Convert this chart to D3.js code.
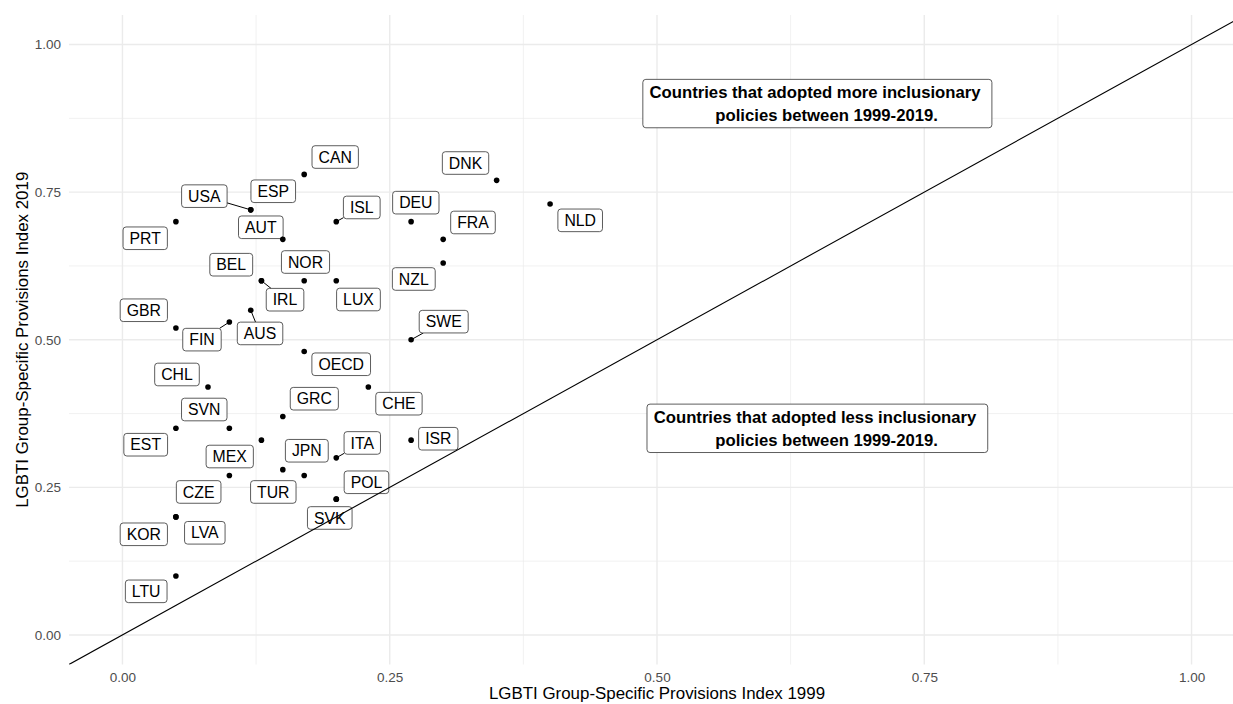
<!DOCTYPE html>
<html>
<head>
<meta charset="utf-8">
<script src="https://cdn.jsdelivr.net/npm/d3@7"></script>
<style>
  body { margin: 0; background: #fff; }
  svg { display: block; font-family: "Liberation Sans", Arial, sans-serif; }
</style>
</head>
<body>
<div id="chart"></div>
<script>
// country codes and the two index values
var countries = ["CAN", "ESP", "USA", "AUT", "PRT", "ISL", "DEU", "DNK", "FRA", "NLD",
                 "NZL", "SWE", "LUX", "NOR", "BEL", "IRL", "GBR", "FIN", "AUS", "OECD",
                 "CHL", "CHE", "GRC", "SVN", "EST", "MEX", "JPN", "TUR", "ITA", "ISR",
                 "CZE", "POL", "SVK", "KOR", "LVA", "LTU"];
var index1999 = [0.17, 0.12, 0.12, 0.15, 0.05, 0.20, 0.27, 0.35, 0.30, 0.40,
                 0.30, 0.27, 0.20, 0.17, 0.13, 0.13, 0.05, 0.10, 0.12, 0.17,
                 0.08, 0.23, 0.15, 0.10, 0.05, 0.13, 0.15, 0.17, 0.20, 0.27,
                 0.10, 0.20, 0.20, 0.05, 0.05, 0.05];
var index2019 = [0.78, 0.72, 0.72, 0.67, 0.70, 0.70, 0.70, 0.77, 0.67, 0.73,
                 0.63, 0.50, 0.60, 0.60, 0.60, 0.60, 0.52, 0.53, 0.55, 0.48,
                 0.42, 0.42, 0.37, 0.35, 0.35, 0.33, 0.28, 0.27, 0.30, 0.33,
                 0.27, 0.23, 0.23, 0.20, 0.20, 0.10];

var majorTicks = [0, 0.25, 0.5, 0.75, 1];
var minorTicks = [0.125, 0.375, 0.625, 0.875];
var tickLabels = ["0.00", "0.25", "0.50", "0.75", "1.00"];

var noteLines = [
  ["Countries that adopted more inclusionary ", "    policies between 1999-2019."],
  ["Countries that adopted less inclusionary ", "    policies between 1999-2019."]
];
var noteX = [0.65, 0.65];
var noteY = [0.90, 0.35];

// repelled label placement (pixel offsets from each point), like ggrepel gave
var labelDx = [31, 22.5, -46.4, -22, -30.7, 25.5, 4.7, -31.1, 29.8, 30.1,
               -29.4, 32.6, 22.2, 1.3, -30.2, 23.6, -32.1, -27.4, 9.3, 37,
               -31, 30.6, 31.5, -25.1, -30.2, -31.7, 24, -30.9, 26, 27.2,
               -30.7, 30.2, -6.5, -32.1, 28.9, -29.7];
var labelDy = [-17.4, -18.6, -13.7, -12.1, 16.6, -14.2, -19, -17.3, -16.9, 16.4,
               16, -18.1, 18.8, -18.7, -16, 19, -17.7, 17.6, 23.2, 12.7,
               -12.5, 16.7, -17.8, -18.8, 16.4, 16.4, -18.9, 16.4, -14.9, -1.4,
               16.4, -16.9, 18.8, 17.4, 15.9, 15.4];
var segmentCountries = ["USA", "ISL", "IRL", "FIN", "AUS", "SWE", "ITA"];

function init() {
  var w = 1233;
  var h = 704;

  var x = d3.scaleLinear().domain([-0.05, 1.05]).range([69, 1245]);
  var y = d3.scaleLinear().domain([-0.05, 1.05]).range([664.5, 15]);

  var svg = d3.select("#chart")
              .append("svg")
              .attr("width", w)
              .attr("height", h);

  svg.append("defs").append("clipPath")
     .attr("id", "panel")
     .append("rect")
     .attr("x", x.range()[0])
     .attr("y", y.range()[1])
     .attr("width", x.range()[1] - x.range()[0])
     .attr("height", y.range()[0] - y.range()[1]);

  // grid
  var grid = svg.append("g").attr("stroke", "#ebebeb");
  [[minorTicks, 0.7], [majorTicks, 1.4]].forEach(function(set) {
    grid.selectAll(null).data(set[0]).enter().append("line")
        .attr("x1", function(d) { return x(d); })
        .attr("x2", function(d) { return x(d); })
        .attr("y1", y.range()[0])
        .attr("y2", y.range()[1])
        .attr("stroke-width", set[1]);
    grid.selectAll(null).data(set[0]).enter().append("line")
        .attr("y1", function(d) { return y(d); })
        .attr("y2", function(d) { return y(d); })
        .attr("x1", x.range()[0])
        .attr("x2", x.range()[1])
        .attr("stroke-width", set[1]);
  });

  // axes
  var xAxis = d3.axisBottom(x)
                .tickValues(majorTicks)
                .tickFormat(function(d, i) { return tickLabels[i]; })
                .tickSize(0)
                .tickPadding(7.5);
  svg.append("g")
     .attr("transform", "translate(0," + y.range()[0] + ")")
     .call(xAxis)
     .attr("font-family", null)
     .attr("font-size", "13.5px")
     .call(function(g) { g.select(".domain").remove(); })
     .selectAll("text").attr("fill", "#4d4d4d");

  var yAxis = d3.axisLeft(y)
                .tickValues(majorTicks)
                .tickFormat(function(d, i) { return tickLabels[i]; })
                .tickSize(0)
                .tickPadding(8);
  svg.append("g")
     .attr("transform", "translate(" + x.range()[0] + ",0)")
     .call(yAxis)
     .attr("font-family", null)
     .attr("font-size", "13.5px")
     .call(function(g) { g.select(".domain").remove(); })
     .selectAll("text").attr("fill", "#4d4d4d");

  // axis titles
  svg.append("text")
     .attr("x", (x.range()[0] + x.range()[1]) / 2)
     .attr("y", 698.5)
     .attr("text-anchor", "middle")
     .attr("font-size", "16.9px")
     .text("LGBTI Group-Specific Provisions Index 1999");

  svg.append("text")
     .attr("transform", "translate(28," + (y.range()[0] + y.range()[1]) / 2 + ") rotate(-90)")
     .attr("text-anchor", "middle")
     .attr("font-size", "16.9px")
     .text("LGBTI Group-Specific Provisions Index 2019");

  var data = countries.map(function(c, i) {
    var px = x(index1999[i]);
    var py = y(index2019[i]);
    return { name: c, px: px, py: py, lx: px + labelDx[i], ly: py + labelDy[i] };
  });

  var plot = svg.append("g").attr("clip-path", "url(#panel)");

  // labels (measure first, then segments under them)
  var labelH = 22.6;
  var labels = plot.append("g");
  var segs = labels.append("g");
  var boxes = labels.selectAll("g.lab")
                    .data(data)
                    .enter()
                    .append("g")
                    .attr("class", "lab");
  var rects = boxes.append("rect");
  boxes.append("text")
       .attr("x", function(d) { return d.lx; })
       .attr("y", function(d) { return d.ly + 5.7; })
       .attr("text-anchor", "middle")
       .attr("font-size", "15.8px")
       .text(function(d) { return d.name; })
       .each(function(d) { d.tw = this.getComputedTextLength() + 13; });
  rects.attr("x", function(d) { return d.lx - d.tw / 2; })
       .attr("y", function(d) { return d.ly - labelH / 2; })
       .attr("width", function(d) { return d.tw; })
       .attr("height", labelH)
       .attr("rx", 3)
       .attr("fill", "#fff")
       .attr("stroke", "#333")
       .attr("stroke-width", 0.8);

  segs.selectAll("line")
      .data(data.filter(function(d) { return segmentCountries.indexOf(d.name) >= 0; }))
      .enter()
      .append("line")
      .each(function(d) {
        var dx = d.lx - d.px, dy = d.ly - d.py;
        var t = Math.min((d.tw / 2) / Math.abs(dx), (labelH / 2) / Math.abs(dy));
        d.ex = d.lx - dx * t;
        d.ey = d.ly - dy * t;
      })
      .attr("x1", function(d) { return d.px; })
      .attr("y1", function(d) { return d.py; })
      .attr("x2", function(d) { return d.ex; })
      .attr("y2", function(d) { return d.ey; })
      .attr("stroke", "#000")
      .attr("stroke-width", 1);

  // points
  plot.append("g")
      .selectAll("circle")
      .data(data)
      .enter()
      .append("circle")
      .attr("cx", function(d) { return d.px; })
      .attr("cy", function(d) { return d.py; })
      .attr("r", 2.8)
      .attr("fill", "#000");

  // annotation boxes
  noteLines.forEach(function(lines, k) {
    var cx = x(noteX[k]);
    var cy = y(noteY[k]);
    var g = plot.append("g");
    var rect = g.append("rect");
    var txt = g.append("text")
               .attr("text-anchor", "middle")
               .attr("font-size", "16.7px")
               .attr("font-weight", "bold")
               .attr("xml:space", "preserve")
               .style("white-space", "pre");
    var tw = 0;
    lines.forEach(function(s, j) {
      var t = txt.append("tspan")
                 .attr("x", cx)
                 .attr("y", cy - 5.75 + j * 23.5)
                 .text(s);
      tw = Math.max(tw, t.node().getComputedTextLength());
    });
    rect.attr("x", cx - tw / 2 - 6.7)
        .attr("y", cy - 24.2)
        .attr("width", tw + 13.4)
        .attr("height", 48.4)
        .attr("rx", 3)
        .attr("fill", "#fff")
        .attr("stroke", "#333")
        .attr("stroke-width", 0.8);
  });

  // y = x reference line
  plot.append("line")
      .attr("x1", x(x.domain()[0]))
      .attr("y1", y(x.domain()[0]))
      .attr("x2", x(x.domain()[1]))
      .attr("y2", y(x.domain()[1]))
      .attr("stroke", "#000")
      .attr("stroke-width", 1.1);
}

window.onload = init;
</script>
</body>
</html>
